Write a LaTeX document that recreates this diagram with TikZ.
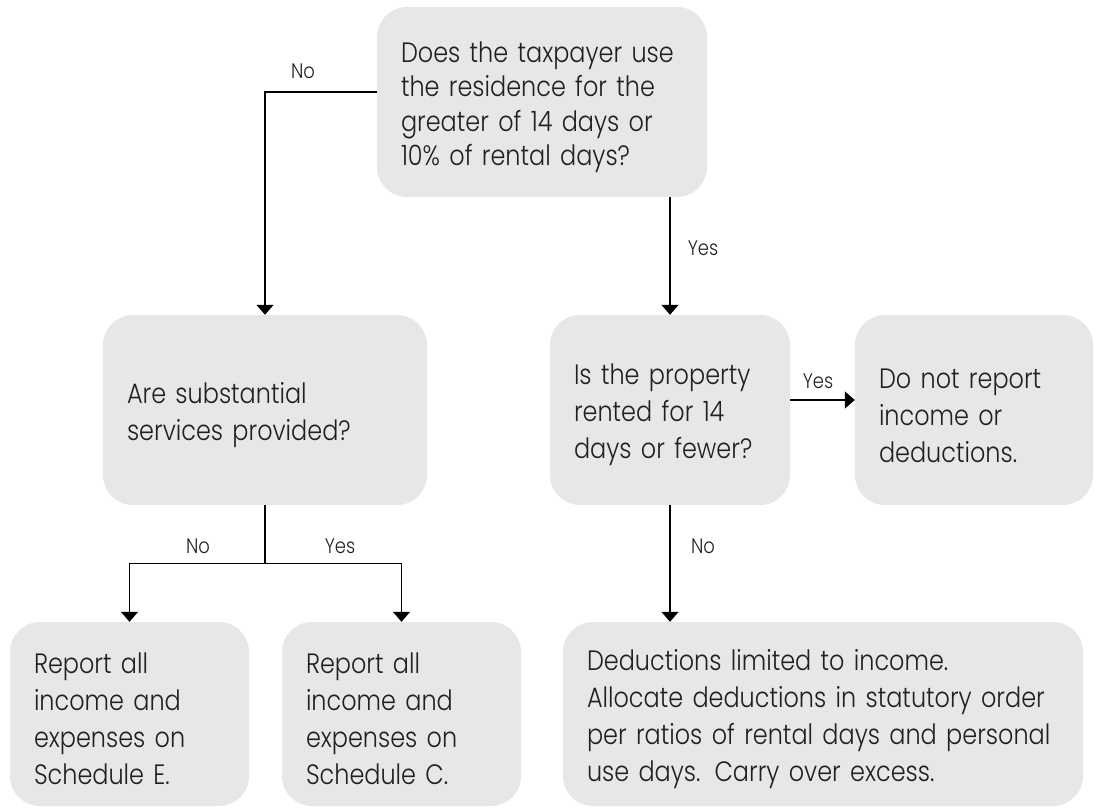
\documentclass[tikz,border=0pt]{standalone}
\usepackage{fontspec}
\setmainfont{Poppins Light}[FakeStretch=0.855]
\usetikzlibrary{arrows.meta}
\definecolor{boxgray}{HTML}{E6E7E8}
\definecolor{ink}{HTML}{231F20}
\begin{document}
\begin{tikzpicture}[x=1pt,y=-1pt,
  box/.style={fill=boxgray, rounded corners=30pt, inner xsep=24pt, inner ysep=0pt,
    align=left, text=ink, font=\fontsize{28}{37}\selectfont, anchor=center,
    execute at begin node={\rule{0pt}{31pt}}},
  conn/.style={line width=1.4pt, -{Triangle[width=17pt,length=10pt]}},
  plain/.style={line width=1.4pt},
  lbl/.style={font=\fontsize{21}{25}\selectfont, text=ink, inner sep=0pt, anchor=base}]
\useasboundingbox (0,0) rectangle (1094,810);

\node[box, text width=282pt, minimum height=190pt, font=\fontsize{28}{34.5}\selectfont] (q1) at (542,102)
  {Does the taxpayer use\\the residence for the\\greater of 14 days or\\10\% of rental days?};
\node[box, text width=276pt, minimum height=190pt] (q2) at (265,410)
  {Are substantial\\services provided?};
\node[box, text width=192pt, minimum height=190pt] (q3) at (670,410)
  {Is the property\\rented for 14\\days or fewer?};
\node[box, text width=190pt, minimum height=190pt] (a4) at (974,410)
  {Do not report\\income or\\deductions.};
\node[box, text width=191pt, minimum height=184pt] (a1) at (129.5,714)
  {Report all\\income and\\expenses on\\Schedule E.};
\node[box, text width=191pt, minimum height=184pt] (a2) at (401.5,714)
  {Report all\\income and\\expenses on\\Schedule C.};
\node[box, text width=472pt, minimum height=184pt] (a3) at (823,714)
  {Deductions limited to income.\\Allocate deductions in statutory order\\per ratios of rental days and personal\\use days. Carry over excess.};

\draw[conn] ([yshift=10pt]q1.west) -| (q2.north);
\draw[conn] (q3.north |- q1.south) -- (q3.north);
\draw[conn] ([yshift=10pt]q3.east) -- ([yshift=10pt]a4.west);
\draw[conn] (q3.south) -- (q3.south |- a3.north);
\coordinate (split) at ([yshift=-58pt]q2.south);
\draw[plain] (q2.south) -- (split);
\draw[conn] (split) -| (a1.north);
\draw[conn] (split) -| (a2.north);

\node[lbl] (l1) at (303,79) {No};
\node[lbl] (l2) at (703,255) {Yes};
\node[lbl] (l3) at (818,388) {Yes};
\node[lbl] (l4) at (703,553) {No};
\node[lbl] (l5) at (198,553) {No};
\node[lbl] (l6) at (340,553) {Yes};
\end{tikzpicture}
\end{document}
